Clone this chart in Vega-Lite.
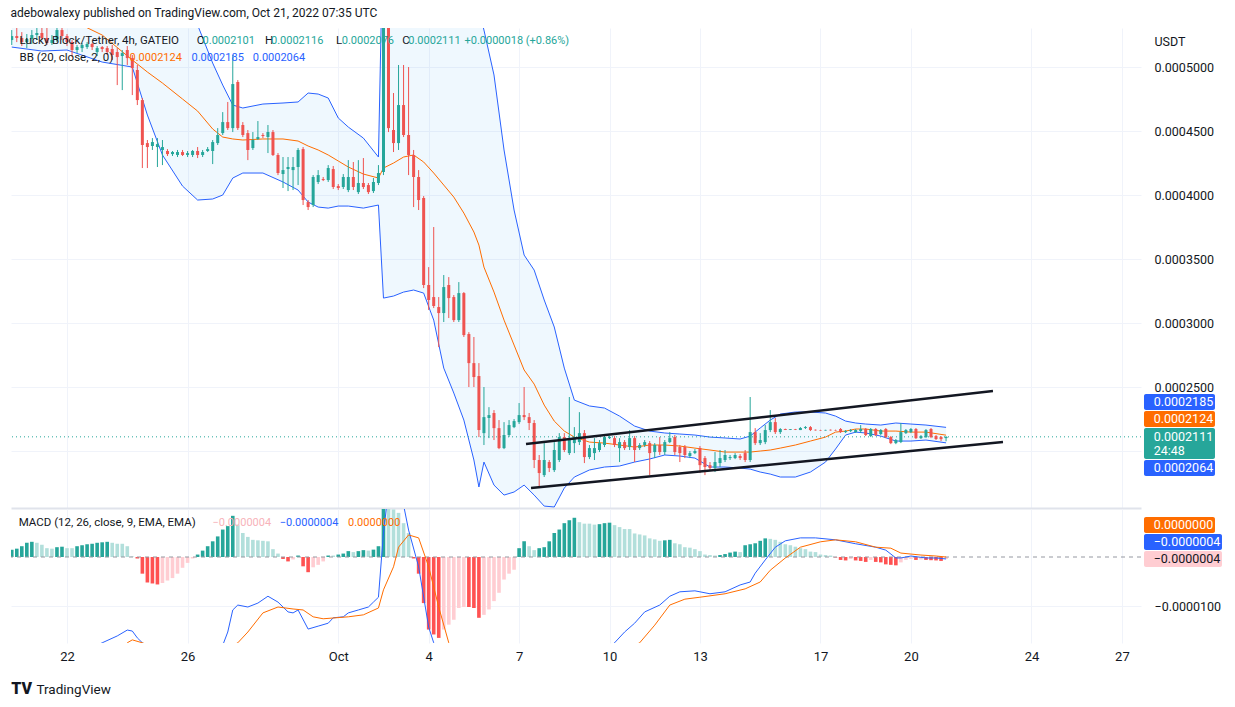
{
  "$schema": "https://vega.github.io/schema/vega-lite/v6.json",
  "background": "white",
  "padding": {"left": 10, "top": 7, "right": 0, "bottom": 0},
  "title": {"text": "adebowalexy published on TradingView.com, Oct 21, 2022 07:35 UTC", "anchor": "start", "fontSize": 12, "fontWeight": "normal", "color": "#131722", "font": "Roboto", "offset": 8},
  "spacing": 1,
  "config": {
    "view": {"stroke": null},
    "font": "Roboto",
    "text": {"font": "Roboto"},
    "axis": {"labelFont": "Roboto", "titleFont": "Roboto", "labelFontSize": 12.5, "labelColor": "#131722", "ticks": false, "domain": false, "gridColor": "#f0f3fa", "gridWidth": 1}
  },
  "datasets": {
    "candles": [
      {"t":"2022-09-20T04:00Z","o":0.0005211,"h":0.0005289,"l":0.0005172,"c":0.0005242,"hist":15e-7},
      {"t":"2022-09-20T08:00Z","o":0.0005242,"h":0.0005305,"l":0.0005195,"c":0.0005227,"hist":17e-7},
      {"t":"2022-09-20T12:00Z","o":0.0005227,"h":0.0005273,"l":0.0005164,"c":0.0005195,"hist":22e-7},
      {"t":"2022-09-20T16:00Z","o":0.0005195,"h":0.0005258,"l":0.0005148,"c":0.0005219,"hist":29e-7},
      {"t":"2022-09-20T20:00Z","o":0.0005219,"h":0.0005289,"l":0.000518,"c":0.000525,"hist":31e-7},
      {"t":"2022-09-21T00:00Z","o":0.000525,"h":0.000532,"l":0.0005211,"c":0.0005266,"hist":29e-7},
      {"t":"2022-09-21T04:00Z","o":0.0005266,"h":0.0005367,"l":0.0005211,"c":0.0005227,"hist":25e-7},
      {"t":"2022-09-21T08:00Z","o":0.0005227,"h":0.0005328,"l":0.0005172,"c":0.0005188,"hist":18e-7},
      {"t":"2022-09-21T12:00Z","o":0.0005188,"h":0.000525,"l":0.0005172,"c":0.0005211,"hist":17e-7},
      {"t":"2022-09-21T16:00Z","o":0.0005211,"h":0.0005328,"l":0.0005195,"c":0.0005289,"hist":20e-7},
      {"t":"2022-09-21T20:00Z","o":0.0005289,"h":0.000532,"l":0.0005211,"c":0.0005242,"hist":21e-7},
      {"t":"2022-09-22T00:00Z","o":0.0005242,"h":0.0005258,"l":0.0005164,"c":0.0005195,"hist":18e-7},
      {"t":"2022-09-22T04:00Z","o":0.0005195,"h":0.0005211,"l":0.0005078,"c":0.0005133,"hist":18e-7},
      {"t":"2022-09-22T08:00Z","o":0.0005133,"h":0.0005172,"l":0.0005109,"c":0.0005156,"hist":22e-7},
      {"t":"2022-09-22T12:00Z","o":0.0005148,"h":0.0005188,"l":0.0005117,"c":0.0005172,"hist":24e-7},
      {"t":"2022-09-22T16:00Z","o":0.0005156,"h":0.0005195,"l":0.0005141,"c":0.000518,"hist":26e-7},
      {"t":"2022-09-22T20:00Z","o":0.000518,"h":0.0005188,"l":0.0005133,"c":0.0005156,"hist":27e-7},
      {"t":"2022-09-23T00:00Z","o":0.0005117,"h":0.0005164,"l":0.0005086,"c":0.0005148,"hist":29e-7},
      {"t":"2022-09-23T04:00Z","o":0.0005156,"h":0.0005164,"l":0.0005117,"c":0.0005141,"hist":30e-7},
      {"t":"2022-09-23T08:00Z","o":0.0005148,"h":0.0005164,"l":0.0005094,"c":0.0005117,"hist":31e-7},
      {"t":"2022-09-23T12:00Z","o":0.0005141,"h":0.0005172,"l":0.0005055,"c":0.0005094,"hist":29e-7},
      {"t":"2022-09-23T16:00Z","o":0.0005117,"h":0.0005148,"l":0.0004859,"c":0.0005078,"hist":27e-7},
      {"t":"2022-09-23T20:00Z","o":0.0005086,"h":0.0005133,"l":0.000482,"c":0.0005109,"hist":27e-7},
      {"t":"2022-09-24T00:00Z","o":0.0005133,"h":0.0005164,"l":0.0005016,"c":0.000507,"hist":22e-7},
      {"t":"2022-09-24T04:00Z","o":0.000507,"h":0.0005094,"l":0.0004781,"c":0.0004992,"hist":1e-7},
      {"t":"2022-09-24T08:00Z","o":0.0004977,"h":0.0005016,"l":0.0004703,"c":0.0004742,"hist":-3e-7},
      {"t":"2022-09-24T12:00Z","o":0.0004742,"h":0.0004758,"l":0.0004211,"c":0.0004391,"hist":-34e-7},
      {"t":"2022-09-24T16:00Z","o":0.0004406,"h":0.000443,"l":0.0004211,"c":0.0004375,"hist":-52e-7},
      {"t":"2022-09-24T20:00Z","o":0.0004383,"h":0.0004445,"l":0.0004352,"c":0.0004414,"hist":-54e-7},
      {"t":"2022-09-25T00:00Z","o":0.0004375,"h":0.0004445,"l":0.0004219,"c":0.0004398,"hist":-56e-7},
      {"t":"2022-09-25T04:00Z","o":0.0004352,"h":0.000443,"l":0.0004234,"c":0.0004375,"hist":-53e-7},
      {"t":"2022-09-25T08:00Z","o":0.0004344,"h":0.0004359,"l":0.0004305,"c":0.000432,"hist":-48e-7},
      {"t":"2022-09-25T12:00Z","o":0.000432,"h":0.0004344,"l":0.0004305,"c":0.0004336,"hist":-43e-7},
      {"t":"2022-09-25T16:00Z","o":0.0004313,"h":0.0004352,"l":0.0004297,"c":0.0004336,"hist":-34e-7},
      {"t":"2022-09-25T20:00Z","o":0.0004336,"h":0.0004352,"l":0.0004305,"c":0.0004313,"hist":-22e-7},
      {"t":"2022-09-26T00:00Z","o":0.0004313,"h":0.0004344,"l":0.0004297,"c":0.0004328,"hist":-12e-7},
      {"t":"2022-09-26T04:00Z","o":0.0004313,"h":0.0004352,"l":0.0004297,"c":0.0004344,"hist":-3e-7},
      {"t":"2022-09-26T08:00Z","o":0.0004344,"h":0.0004375,"l":0.0004289,"c":0.0004313,"hist":5e-7},
      {"t":"2022-09-26T12:00Z","o":0.0004313,"h":0.0004352,"l":0.0004297,"c":0.0004336,"hist":13e-7},
      {"t":"2022-09-26T16:00Z","o":0.0004344,"h":0.0004375,"l":0.0004336,"c":0.0004359,"hist":22e-7},
      {"t":"2022-09-26T20:00Z","o":0.0004344,"h":0.000443,"l":0.0004242,"c":0.0004414,"hist":32e-7},
      {"t":"2022-09-27T00:00Z","o":0.0004406,"h":0.0004523,"l":0.0004391,"c":0.0004469,"hist":42e-7},
      {"t":"2022-09-27T04:00Z","o":0.0004484,"h":0.0004648,"l":0.0004469,"c":0.000457,"hist":56e-7},
      {"t":"2022-09-27T08:00Z","o":0.000457,"h":0.0004727,"l":0.0004508,"c":0.0004523,"hist":63e-7},
      {"t":"2022-09-27T12:00Z","o":0.0004523,"h":0.0005094,"l":0.0004492,"c":0.0004867,"hist":84e-7},
      {"t":"2022-09-27T16:00Z","o":0.0004883,"h":0.0004898,"l":0.0004508,"c":0.0004523,"hist":66e-7},
      {"t":"2022-09-27T20:00Z","o":0.0004547,"h":0.000457,"l":0.0004453,"c":0.0004469,"hist":49e-7},
      {"t":"2022-09-28T00:00Z","o":0.0004484,"h":0.0004508,"l":0.0004273,"c":0.0004352,"hist":41e-7},
      {"t":"2022-09-28T04:00Z","o":0.0004367,"h":0.0004492,"l":0.0004352,"c":0.000443,"hist":35e-7},
      {"t":"2022-09-28T08:00Z","o":0.0004438,"h":0.0004578,"l":0.000443,"c":0.0004453,"hist":34e-7},
      {"t":"2022-09-28T12:00Z","o":0.0004469,"h":0.0004484,"l":0.0004445,"c":0.0004461,"hist":33e-7},
      {"t":"2022-09-28T16:00Z","o":0.0004453,"h":0.0004547,"l":0.0004328,"c":0.0004492,"hist":32e-7},
      {"t":"2022-09-28T20:00Z","o":0.0004492,"h":0.0004508,"l":0.0004305,"c":0.0004313,"hist":16e-7},
      {"t":"2022-09-29T00:00Z","o":0.0004313,"h":0.0004328,"l":0.0004156,"c":0.0004172,"hist":7e-7},
      {"t":"2022-09-29T04:00Z","o":0.0004164,"h":0.0004297,"l":0.0004055,"c":0.0004195,"hist":-4e-7},
      {"t":"2022-09-29T08:00Z","o":0.0004203,"h":0.0004297,"l":0.0004031,"c":0.0004219,"hist":-9e-7},
      {"t":"2022-09-29T12:00Z","o":0.0004195,"h":0.0004297,"l":0.0004039,"c":0.0004219,"hist":-5e-7},
      {"t":"2022-09-29T16:00Z","o":0.0004219,"h":0.0004367,"l":0.0004078,"c":0.0004352,"hist":3e-7},
      {"t":"2022-09-29T20:00Z","o":0.0004359,"h":0.0004375,"l":0.0003922,"c":0.0003961,"hist":-19e-7},
      {"t":"2022-09-30T00:00Z","o":0.0003945,"h":0.0003961,"l":0.0003883,"c":0.0003906,"hist":-31e-7},
      {"t":"2022-09-30T04:00Z","o":0.0003922,"h":0.0004156,"l":0.0003906,"c":0.0004141,"hist":-21e-7},
      {"t":"2022-09-30T08:00Z","o":0.0004102,"h":0.0004195,"l":0.0004086,"c":0.0004156,"hist":-16e-7},
      {"t":"2022-09-30T12:00Z","o":0.0004125,"h":0.0004141,"l":0.0004109,"c":0.0004117,"hist":-9e-7},
      {"t":"2022-09-30T16:00Z","o":0.0004117,"h":0.0004234,"l":0.0004102,"c":0.0004211,"hist":3e-7},
      {"t":"2022-09-30T20:00Z","o":0.0004203,"h":0.0004227,"l":0.0004047,"c":0.0004063,"hist":3e-7},
      {"t":"2022-10-01T00:00Z","o":0.000407,"h":0.0004086,"l":0.0004039,"c":0.0004055,"hist":5e-7},
      {"t":"2022-10-01T04:00Z","o":0.0004063,"h":0.0004164,"l":0.0004047,"c":0.0004141,"hist":7e-7},
      {"t":"2022-10-01T08:00Z","o":0.0004039,"h":0.0004273,"l":0.0004023,"c":0.0004141,"hist":12e-7},
      {"t":"2022-10-01T12:00Z","o":0.0004141,"h":0.0004258,"l":0.0004039,"c":0.0004063,"hist":10e-7},
      {"t":"2022-10-01T16:00Z","o":0.0004023,"h":0.0004273,"l":0.0004008,"c":0.0004094,"hist":12e-7},
      {"t":"2022-10-01T20:00Z","o":0.0004094,"h":0.0004289,"l":0.0004047,"c":0.0004063,"hist":14e-7},
      {"t":"2022-10-02T00:00Z","o":0.0004078,"h":0.0004094,"l":0.0004008,"c":0.0004023,"hist":13e-7},
      {"t":"2022-10-02T04:00Z","o":0.0004031,"h":0.0004133,"l":0.0004016,"c":0.0004102,"hist":15e-7},
      {"t":"2022-10-02T08:00Z","o":0.0004094,"h":0.0004234,"l":0.0004078,"c":0.0004172,"hist":22e-7},
      {"t":"2022-10-02T12:00Z","o":0.000418,"h":0.0005523,"l":0.0004156,"c":0.0005406,"hist":130e-7},
      {"t":"2022-10-02T16:00Z","o":0.0005406,"h":0.0005508,"l":0.0004492,"c":0.0004523,"hist":103e-7},
      {"t":"2022-10-02T20:00Z","o":0.0004508,"h":0.0004797,"l":0.0004336,"c":0.0004406,"hist":97e-7},
      {"t":"2022-10-03T00:00Z","o":0.0004406,"h":0.0005016,"l":0.0004352,"c":0.0004703,"hist":90e-7},
      {"t":"2022-10-03T04:00Z","o":0.0004703,"h":0.0005016,"l":0.0004453,"c":0.0004469,"hist":69e-7},
      {"t":"2022-10-03T08:00Z","o":0.0004469,"h":0.0005,"l":0.0004156,"c":0.0004313,"hist":49e-7},
      {"t":"2022-10-03T12:00Z","o":0.0004313,"h":0.0004352,"l":0.0003906,"c":0.0004141,"hist":-3e-7},
      {"t":"2022-10-03T16:00Z","o":0.0004141,"h":0.0004195,"l":0.0003883,"c":0.0003961,"hist":-34e-7},
      {"t":"2022-10-03T20:00Z","o":0.0003977,"h":0.0003992,"l":0.0003273,"c":0.0003297,"hist":-94e-7},
      {"t":"2022-10-04T00:00Z","o":0.0003297,"h":0.0003437,"l":0.0003102,"c":0.000318,"hist":-148e-7},
      {"t":"2022-10-04T04:00Z","o":0.0003203,"h":0.000375,"l":0.0003117,"c":0.0003133,"hist":-158e-7},
      {"t":"2022-10-04T08:00Z","o":0.0003125,"h":0.0003203,"l":0.0002812,"c":0.0003078,"hist":-165e-7},
      {"t":"2022-10-04T12:00Z","o":0.0003078,"h":0.0003375,"l":0.0003008,"c":0.0003281,"hist":-148e-7},
      {"t":"2022-10-04T16:00Z","o":0.0003297,"h":0.0003359,"l":0.0003039,"c":0.0003195,"hist":-138e-7},
      {"t":"2022-10-04T20:00Z","o":0.0003203,"h":0.0003219,"l":0.0003008,"c":0.0003023,"hist":-128e-7},
      {"t":"2022-10-05T00:00Z","o":0.0003023,"h":0.000332,"l":0.0003008,"c":0.0003234,"hist":-104e-7},
      {"t":"2022-10-05T04:00Z","o":0.0003234,"h":0.0003242,"l":0.0002891,"c":0.0002906,"hist":-102e-7},
      {"t":"2022-10-05T08:00Z","o":0.0002914,"h":0.0002929,"l":0.00025,"c":0.0002687,"hist":-102e-7},
      {"t":"2022-10-05T12:00Z","o":0.0002687,"h":0.0002891,"l":0.00025,"c":0.0002578,"hist":-104e-7},
      {"t":"2022-10-05T16:00Z","o":0.0002586,"h":0.0002687,"l":0.0002109,"c":0.0002164,"hist":-124e-7},
      {"t":"2022-10-05T20:00Z","o":0.000214,"h":0.00025,"l":0.0002047,"c":0.0002265,"hist":-118e-7},
      {"t":"2022-10-06T00:00Z","o":0.0002258,"h":0.0002343,"l":0.0002101,"c":0.0002281,"hist":-107e-7},
      {"t":"2022-10-06T04:00Z","o":0.0002297,"h":0.000232,"l":0.0002086,"c":0.0002179,"hist":-90e-7},
      {"t":"2022-10-06T08:00Z","o":0.0002179,"h":0.0002242,"l":0.0002015,"c":0.0002023,"hist":-73e-7},
      {"t":"2022-10-06T12:00Z","o":0.0002023,"h":0.0002226,"l":0.0002015,"c":0.0002125,"hist":-46e-7},
      {"t":"2022-10-06T16:00Z","o":0.0002125,"h":0.0002242,"l":0.0002109,"c":0.0002203,"hist":-34e-7},
      {"t":"2022-10-06T20:00Z","o":0.0002187,"h":0.000225,"l":0.0002179,"c":0.0002234,"hist":-26e-7},
      {"t":"2022-10-07T00:00Z","o":0.0002226,"h":0.0002375,"l":0.0002211,"c":0.0002281,"hist":18e-7},
      {"t":"2022-10-07T04:00Z","o":0.0002281,"h":0.00025,"l":0.0002242,"c":0.0002265,"hist":32e-7},
      {"t":"2022-10-07T08:00Z","o":0.0002265,"h":0.0002297,"l":0.0002164,"c":0.0002219,"hist":22e-7},
      {"t":"2022-10-07T12:00Z","o":0.0002219,"h":0.0002242,"l":0.0001867,"c":0.000193,"hist":14e-7},
      {"t":"2022-10-07T16:00Z","o":0.000193,"h":0.0001969,"l":0.0001719,"c":0.0001828,"hist":18e-7},
      {"t":"2022-10-07T20:00Z","o":0.0001812,"h":0.0002062,"l":0.0001797,"c":0.000193,"hist":20e-7},
      {"t":"2022-10-08T00:00Z","o":0.0001914,"h":0.000193,"l":0.0001836,"c":0.0001867,"hist":32e-7},
      {"t":"2022-10-08T04:00Z","o":0.0001851,"h":0.000207,"l":0.0001836,"c":0.0002008,"hist":49e-7},
      {"t":"2022-10-08T08:00Z","o":0.000193,"h":0.000214,"l":0.0001914,"c":0.0002109,"hist":56e-7},
      {"t":"2022-10-08T12:00Z","o":0.0002109,"h":0.000214,"l":0.0001992,"c":0.0002008,"hist":69e-7},
      {"t":"2022-10-08T16:00Z","o":0.0001984,"h":0.0002422,"l":0.0001969,"c":0.0002086,"hist":75e-7},
      {"t":"2022-10-08T20:00Z","o":0.0002062,"h":0.0002187,"l":0.0001984,"c":0.0002109,"hist":80e-7},
      {"t":"2022-10-09T00:00Z","o":0.000207,"h":0.0002304,"l":0.0002047,"c":0.000214,"hist":71e-7},
      {"t":"2022-10-09T04:00Z","o":0.000214,"h":0.0002164,"l":0.0001906,"c":0.0001953,"hist":68e-7},
      {"t":"2022-10-09T08:00Z","o":0.0001953,"h":0.0002047,"l":0.0001937,"c":0.0002023,"hist":68e-7},
      {"t":"2022-10-09T12:00Z","o":0.0001984,"h":0.0002101,"l":0.000193,"c":0.0002023,"hist":66e-7},
      {"t":"2022-10-09T16:00Z","o":0.0002008,"h":0.0002086,"l":0.0001992,"c":0.0002062,"hist":67e-7},
      {"t":"2022-10-09T20:00Z","o":0.0002047,"h":0.0002125,"l":0.0002031,"c":0.0002109,"hist":69e-7},
      {"t":"2022-10-10T00:00Z","o":0.0002101,"h":0.0002117,"l":0.0002094,"c":0.0002109,"hist":70e-7},
      {"t":"2022-10-10T04:00Z","o":0.0002101,"h":0.0002117,"l":0.0002031,"c":0.0002047,"hist":65e-7},
      {"t":"2022-10-10T08:00Z","o":0.0002023,"h":0.0002101,"l":0.0001914,"c":0.000207,"hist":61e-7},
      {"t":"2022-10-10T12:00Z","o":0.000207,"h":0.0002086,"l":0.0002008,"c":0.0002023,"hist":57e-7},
      {"t":"2022-10-10T16:00Z","o":0.0002031,"h":0.0002164,"l":0.0002008,"c":0.0002101,"hist":57e-7},
      {"t":"2022-10-10T20:00Z","o":0.0002101,"h":0.0002117,"l":0.0001914,"c":0.0002008,"hist":48e-7},
      {"t":"2022-10-11T00:00Z","o":0.0002023,"h":0.0002062,"l":0.0002008,"c":0.0002047,"hist":46e-7},
      {"t":"2022-10-11T04:00Z","o":0.0002047,"h":0.0002086,"l":0.0002031,"c":0.000207,"hist":44e-7},
      {"t":"2022-10-11T08:00Z","o":0.0002062,"h":0.0002078,"l":0.0001812,"c":0.0001984,"hist":38e-7},
      {"t":"2022-10-11T12:00Z","o":0.0001992,"h":0.0002062,"l":0.0001945,"c":0.0002047,"hist":36e-7},
      {"t":"2022-10-11T16:00Z","o":0.0002047,"h":0.0002109,"l":0.0001969,"c":0.0001992,"hist":33e-7},
      {"t":"2022-10-11T20:00Z","o":0.0001992,"h":0.0002086,"l":0.0001969,"c":0.000207,"hist":34e-7},
      {"t":"2022-10-12T00:00Z","o":0.000207,"h":0.0002148,"l":0.0002062,"c":0.0002101,"hist":35e-7},
      {"t":"2022-10-12T04:00Z","o":0.0002109,"h":0.0002125,"l":0.0001969,"c":0.0001992,"hist":28e-7},
      {"t":"2022-10-12T08:00Z","o":0.0002031,"h":0.0002047,"l":0.0001914,"c":0.0001984,"hist":26e-7},
      {"t":"2022-10-12T12:00Z","o":0.0002031,"h":0.0002047,"l":0.0001945,"c":0.0001969,"hist":20e-7},
      {"t":"2022-10-12T16:00Z","o":0.0001961,"h":0.0002,"l":0.0001945,"c":0.0001984,"hist":19e-7},
      {"t":"2022-10-12T20:00Z","o":0.0001984,"h":0.0002016,"l":0.0001976,"c":0.0002,"hist":16e-7},
      {"t":"2022-10-13T00:00Z","o":0.0002023,"h":0.0002039,"l":0.0001828,"c":0.000189,"hist":12e-7},
      {"t":"2022-10-13T04:00Z","o":0.0001945,"h":0.0001961,"l":0.0001812,"c":0.0001875,"hist":5e-7},
      {"t":"2022-10-13T08:00Z","o":0.000189,"h":0.0001914,"l":0.0001851,"c":0.0001867,"hist":4e-7},
      {"t":"2022-10-13T12:00Z","o":0.0001867,"h":0.0001992,"l":0.0001836,"c":0.0001914,"hist":3e-7},
      {"t":"2022-10-13T16:00Z","o":0.0001906,"h":0.0002008,"l":0.0001875,"c":0.0001945,"hist":4e-7},
      {"t":"2022-10-13T20:00Z","o":0.000193,"h":0.0002008,"l":0.0001914,"c":0.0001969,"hist":6e-7},
      {"t":"2022-10-14T00:00Z","o":0.0001945,"h":0.0001969,"l":0.000193,"c":0.0001953,"hist":9e-7},
      {"t":"2022-10-14T04:00Z","o":0.0001945,"h":0.0001984,"l":0.0001937,"c":0.0001969,"hist":11e-7},
      {"t":"2022-10-14T08:00Z","o":0.0001961,"h":0.0001976,"l":0.000193,"c":0.0001945,"hist":10e-7},
      {"t":"2022-10-14T12:00Z","o":0.0001984,"h":0.0002008,"l":0.0001914,"c":0.000193,"hist":24e-7},
      {"t":"2022-10-14T16:00Z","o":0.000193,"h":0.0002422,"l":0.0001914,"c":0.0002148,"hist":26e-7},
      {"t":"2022-10-14T20:00Z","o":0.0002148,"h":0.0002179,"l":0.0002047,"c":0.0002062,"hist":28e-7},
      {"t":"2022-10-15T00:00Z","o":0.0002062,"h":0.000214,"l":0.0002047,"c":0.0002086,"hist":33e-7},
      {"t":"2022-10-15T04:00Z","o":0.000207,"h":0.0002203,"l":0.0002054,"c":0.0002164,"hist":38e-7},
      {"t":"2022-10-15T08:00Z","o":0.0002164,"h":0.000232,"l":0.0002148,"c":0.0002226,"hist":37e-7},
      {"t":"2022-10-15T12:00Z","o":0.0002226,"h":0.0002258,"l":0.0002133,"c":0.0002148,"hist":35e-7},
      {"t":"2022-10-15T16:00Z","o":0.0002148,"h":0.0002179,"l":0.0002133,"c":0.0002172,"hist":31e-7},
      {"t":"2022-10-15T20:00Z","o":0.0002172,"h":0.0002175,"l":0.0002164,"c":0.0002165,"hist":26e-7},
      {"t":"2022-10-16T00:00Z","o":0.0002165,"h":0.0002172,"l":0.0002164,"c":0.0002171,"hist":24e-7},
      {"t":"2022-10-16T04:00Z","o":0.0002171,"h":0.0002173,"l":0.0002164,"c":0.0002166,"hist":21e-7},
      {"t":"2022-10-16T08:00Z","o":0.0002164,"h":0.0002187,"l":0.0002164,"c":0.000218,"hist":18e-7},
      {"t":"2022-10-16T12:00Z","o":0.000218,"h":0.0002195,"l":0.0002172,"c":0.0002187,"hist":16e-7},
      {"t":"2022-10-16T16:00Z","o":0.0002187,"h":0.0002195,"l":0.0002156,"c":0.0002164,"hist":11e-7},
      {"t":"2022-10-16T20:00Z","o":0.0002166,"h":0.0002168,"l":0.000216,"c":0.0002162,"hist":10e-7},
      {"t":"2022-10-17T00:00Z","o":0.0002164,"h":0.0002166,"l":0.0002159,"c":0.0002161,"hist":5e-7},
      {"t":"2022-10-17T04:00Z","o":0.0002161,"h":0.0002166,"l":0.000216,"c":0.0002165,"hist":4e-7},
      {"t":"2022-10-17T08:00Z","o":0.0002166,"h":0.0002168,"l":0.000216,"c":0.0002162,"hist":3e-7},
      {"t":"2022-10-17T12:00Z","o":0.0002164,"h":0.0002167,"l":0.0002159,"c":0.0002161,"hist":-1e-7},
      {"t":"2022-10-17T16:00Z","o":0.0002172,"h":0.000218,"l":0.0002141,"c":0.0002148,"hist":-6e-7},
      {"t":"2022-10-17T20:00Z","o":0.0002148,"h":0.0002164,"l":0.0002141,"c":0.0002156,"hist":-7e-7},
      {"t":"2022-10-18T00:00Z","o":0.0002156,"h":0.0002172,"l":0.0002148,"c":0.0002164,"hist":-4e-7},
      {"t":"2022-10-18T04:00Z","o":0.0002148,"h":0.0002172,"l":0.0002141,"c":0.0002164,"hist":-7e-7},
      {"t":"2022-10-18T08:00Z","o":0.0002156,"h":0.0002203,"l":0.0002141,"c":0.0002172,"hist":-8e-7},
      {"t":"2022-10-18T12:00Z","o":0.0002172,"h":0.000218,"l":0.0002117,"c":0.0002125,"hist":-10e-7},
      {"t":"2022-10-18T16:00Z","o":0.0002117,"h":0.000218,"l":0.0002109,"c":0.0002172,"hist":-6e-7},
      {"t":"2022-10-18T20:00Z","o":0.0002172,"h":0.000218,"l":0.0002117,"c":0.0002125,"hist":-10e-7},
      {"t":"2022-10-19T00:00Z","o":0.0002133,"h":0.0002172,"l":0.0002125,"c":0.0002164,"hist":-11e-7},
      {"t":"2022-10-19T04:00Z","o":0.0002172,"h":0.000218,"l":0.0002101,"c":0.0002109,"hist":-15e-7},
      {"t":"2022-10-19T08:00Z","o":0.0002109,"h":0.0002117,"l":0.0002054,"c":0.0002062,"hist":-16e-7},
      {"t":"2022-10-19T12:00Z","o":0.0002062,"h":0.0002094,"l":0.0002054,"c":0.0002086,"hist":-17e-7},
      {"t":"2022-10-19T16:00Z","o":0.000207,"h":0.0002219,"l":0.0002062,"c":0.0002148,"hist":-11e-7},
      {"t":"2022-10-19T20:00Z","o":0.000214,"h":0.0002172,"l":0.0002133,"c":0.0002164,"hist":-6e-7},
      {"t":"2022-10-20T00:00Z","o":0.0002148,"h":0.000218,"l":0.000214,"c":0.0002172,"hist":-4e-7},
      {"t":"2022-10-20T04:00Z","o":0.0002172,"h":0.000218,"l":0.0002094,"c":0.0002101,"hist":-6e-7},
      {"t":"2022-10-20T08:00Z","o":0.0002101,"h":0.0002125,"l":0.0002094,"c":0.0002117,"hist":-5e-7},
      {"t":"2022-10-20T12:00Z","o":0.0002109,"h":0.0002172,"l":0.0002101,"c":0.0002164,"hist":-6e-7},
      {"t":"2022-10-20T16:00Z","o":0.0002172,"h":0.000218,"l":0.0002101,"c":0.0002109,"hist":-6.5e-7},
      {"t":"2022-10-20T20:00Z","o":0.0002117,"h":0.0002125,"l":0.0002086,"c":0.0002094,"hist":-7e-7},
      {"t":"2022-10-21T00:00Z","o":0.0002109,"h":0.0002117,"l":0.0002078,"c":0.0002093,"hist":-8e-7},
      {"t":"2022-10-21T04:00Z","o":0.0002101,"h":0.0002116,"l":0.0002076,"c":0.0002111,"hist":-4e-7}
    ],
    "bb": [
      {"t":"2022-09-20T04:00Z","up":0.0005992,"mid":0.0005562,"lo":0.0005156},
      {"t":"2022-09-21T04:00Z","up":0.0005992,"mid":0.0005461,"lo":0.0005125},
      {"t":"2022-09-22T00:00Z","up":0.0005953,"mid":0.0005383,"lo":0.0005133},
      {"t":"2022-09-23T04:00Z","up":0.0005914,"mid":0.000525,"lo":0.0005039},
      {"t":"2022-09-24T04:00Z","up":0.0005875,"mid":0.0005055,"lo":0.0005},
      {"t":"2022-09-24T16:00Z","up":0.0005797,"mid":0.0004961,"lo":0.0004625},
      {"t":"2022-09-25T04:00Z","up":0.000568,"mid":0.0004875,"lo":0.0004313},
      {"t":"2022-09-25T20:00Z","up":0.0005484,"mid":0.000475,"lo":0.000407},
      {"t":"2022-09-26T08:00Z","up":0.0005328,"mid":0.0004656,"lo":0.0003961},
      {"t":"2022-09-26T20:00Z","up":0.0005031,"mid":0.0004516,"lo":0.0003969},
      {"t":"2022-09-27T04:00Z","up":0.0004859,"mid":0.0004453,"lo":0.0004},
      {"t":"2022-09-27T12:00Z","up":0.0004703,"mid":0.0004438,"lo":0.0004133},
      {"t":"2022-09-27T20:00Z","up":0.000468,"mid":0.000443,"lo":0.0004172},
      {"t":"2022-09-28T12:00Z","up":0.0004711,"mid":0.0004438,"lo":0.0004172},
      {"t":"2022-09-29T04:00Z","up":0.0004719,"mid":0.0004438,"lo":0.0004102},
      {"t":"2022-09-29T16:00Z","up":0.0004727,"mid":0.0004422,"lo":0.0004039},
      {"t":"2022-09-30T00:00Z","up":0.0004797,"mid":0.0004383,"lo":0.0003945},
      {"t":"2022-09-30T08:00Z","up":0.0004789,"mid":0.0004352,"lo":0.0003906},
      {"t":"2022-09-30T16:00Z","up":0.0004758,"mid":0.0004313,"lo":0.0003898},
      {"t":"2022-10-01T00:00Z","up":0.0004602,"mid":0.0004266,"lo":0.0003914},
      {"t":"2022-10-01T08:00Z","up":0.0004531,"mid":0.0004219,"lo":0.0003914},
      {"t":"2022-10-01T20:00Z","up":0.0004445,"mid":0.0004164,"lo":0.0003898},
      {"t":"2022-10-02T08:00Z","up":0.0004297,"mid":0.0004133,"lo":0.0003922},
      {"t":"2022-10-02T12:00Z","up":0.0006227,"mid":0.0004211,"lo":0.0003195},
      {"t":"2022-10-02T20:00Z","up":0.0006383,"mid":0.000425,"lo":0.0003211},
      {"t":"2022-10-03T04:00Z","up":0.0006461,"mid":0.0004297,"lo":0.0003242},
      {"t":"2022-10-03T12:00Z","up":0.0006461,"mid":0.0004313,"lo":0.0003258},
      {"t":"2022-10-03T20:00Z","up":0.0006383,"mid":0.0004258,"lo":0.0003234},
      {"t":"2022-10-04T04:00Z","up":0.0006305,"mid":0.0004172,"lo":0.0003023},
      {"t":"2022-10-04T12:00Z","up":0.0006148,"mid":0.0004078,"lo":0.0002648},
      {"t":"2022-10-04T20:00Z","up":0.0005992,"mid":0.0003984,"lo":0.0002453},
      {"t":"2022-10-05T04:00Z","up":0.0005836,"mid":0.0003859,"lo":0.0002242},
      {"t":"2022-10-05T12:00Z","up":0.0005602,"mid":0.0003711,"lo":0.000193},
      {"t":"2022-10-05T16:00Z","up":0.0005445,"mid":0.0003609,"lo":0.0001719},
      {"t":"2022-10-05T20:00Z","up":0.0005289,"mid":0.0003437,"lo":0.0001914},
      {"t":"2022-10-06T04:00Z","up":0.0004938,"mid":0.0003242,"lo":0.0001734},
      {"t":"2022-10-06T12:00Z","up":0.0004352,"mid":0.0003023,"lo":0.0001656},
      {"t":"2022-10-06T20:00Z","up":0.0003883,"mid":0.0002828,"lo":0.000168},
      {"t":"2022-10-07T04:00Z","up":0.0003531,"mid":0.0002633,"lo":0.0001734},
      {"t":"2022-10-07T12:00Z","up":0.0003414,"mid":0.0002523,"lo":0.0001656},
      {"t":"2022-10-07T20:00Z","up":0.000318,"mid":0.0002359,"lo":0.000157},
      {"t":"2022-10-08T04:00Z","up":0.0002969,"mid":0.0002234,"lo":0.0001563},
      {"t":"2022-10-08T12:00Z","up":0.0002648,"mid":0.0002156,"lo":0.0001711},
      {"t":"2022-10-08T20:00Z","up":0.0002398,"mid":0.0002109,"lo":0.0001797},
      {"t":"2022-10-09T08:00Z","up":0.0002352,"mid":0.000207,"lo":0.0001852},
      {"t":"2022-10-09T20:00Z","up":0.0002336,"mid":0.0002062,"lo":0.0001875},
      {"t":"2022-10-10T08:00Z","up":0.0002273,"mid":0.0002047,"lo":0.0001883},
      {"t":"2022-10-10T20:00Z","up":0.0002195,"mid":0.0002031,"lo":0.0001914},
      {"t":"2022-10-11T08:00Z","up":0.0002156,"mid":0.0002047,"lo":0.0001938},
      {"t":"2022-10-11T20:00Z","up":0.0002141,"mid":0.0002047,"lo":0.0001969},
      {"t":"2022-10-12T08:00Z","up":0.0002133,"mid":0.0002039,"lo":0.0001961},
      {"t":"2022-10-12T20:00Z","up":0.0002125,"mid":0.0002023,"lo":0.0001945},
      {"t":"2022-10-13T08:00Z","up":0.0002109,"mid":0.0002008,"lo":0.0001875},
      {"t":"2022-10-13T20:00Z","up":0.0002102,"mid":0.0001992,"lo":0.0001875},
      {"t":"2022-10-14T08:00Z","up":0.0002094,"mid":0.0001992,"lo":0.0001867},
      {"t":"2022-10-14T16:00Z","up":0.0002117,"mid":0.0001992,"lo":0.0001859},
      {"t":"2022-10-15T00:00Z","up":0.000218,"mid":0.0002,"lo":0.0001836},
      {"t":"2022-10-15T08:00Z","up":0.0002242,"mid":0.0002008,"lo":0.000182},
      {"t":"2022-10-15T16:00Z","up":0.0002289,"mid":0.0002023,"lo":0.0001797},
      {"t":"2022-10-16T04:00Z","up":0.0002305,"mid":0.0002047,"lo":0.0001797},
      {"t":"2022-10-16T16:00Z","up":0.0002305,"mid":0.0002078,"lo":0.0001836},
      {"t":"2022-10-17T04:00Z","up":0.0002297,"mid":0.0002109,"lo":0.0001914},
      {"t":"2022-10-17T12:00Z","up":0.0002273,"mid":0.0002148,"lo":0.0002016},
      {"t":"2022-10-17T20:00Z","up":0.0002234,"mid":0.0002156,"lo":0.0002125},
      {"t":"2022-10-18T04:00Z","up":0.0002219,"mid":0.0002172,"lo":0.0002148},
      {"t":"2022-10-18T12:00Z","up":0.0002211,"mid":0.0002172,"lo":0.0002141},
      {"t":"2022-10-19T00:00Z","up":0.0002203,"mid":0.0002156,"lo":0.0002117},
      {"t":"2022-10-19T12:00Z","up":0.0002219,"mid":0.0002156,"lo":0.0002078},
      {"t":"2022-10-20T00:00Z","up":0.0002211,"mid":0.0002148,"lo":0.0002078},
      {"t":"2022-10-20T12:00Z","up":0.0002203,"mid":0.0002148,"lo":0.0002086},
      {"t":"2022-10-21T04:00Z","up":0.0002185,"mid":0.0002124,"lo":0.0002064}
    ],
    "macd": [
      {"t":"2022-09-20T04:00Z","s":"MACD","v":-240e-7},
      {"t":"2022-09-21T20:00Z","s":"MACD","v":-215e-7},
      {"t":"2022-09-23T04:00Z","s":"MACD","v":-175e-7},
      {"t":"2022-09-23T16:00Z","s":"MACD","v":-161e-7},
      {"t":"2022-09-24T00:00Z","s":"MACD","v":-149e-7},
      {"t":"2022-09-24T04:00Z","s":"MACD","v":-151e-7},
      {"t":"2022-09-24T08:00Z","s":"MACD","v":-165e-7},
      {"t":"2022-09-24T12:00Z","s":"MACD","v":-175e-7},
      {"t":"2022-09-25T04:00Z","s":"MACD","v":-200e-7},
      {"t":"2022-09-26T04:00Z","s":"MACD","v":-210e-7},
      {"t":"2022-09-26T20:00Z","s":"MACD","v":-195e-7},
      {"t":"2022-09-27T04:00Z","s":"MACD","v":-180e-7},
      {"t":"2022-09-27T08:00Z","s":"MACD","v":-153e-7},
      {"t":"2022-09-27T12:00Z","s":"MACD","v":-108e-7},
      {"t":"2022-09-27T16:00Z","s":"MACD","v":-98e-7},
      {"t":"2022-09-28T00:00Z","s":"MACD","v":-102e-7},
      {"t":"2022-09-28T08:00Z","s":"MACD","v":-94e-7},
      {"t":"2022-09-28T16:00Z","s":"MACD","v":-80e-7},
      {"t":"2022-09-29T00:00Z","s":"MACD","v":-92e-7},
      {"t":"2022-09-29T08:00Z","s":"MACD","v":-112e-7},
      {"t":"2022-09-29T12:00Z","s":"MACD","v":-114e-7},
      {"t":"2022-09-29T16:00Z","s":"MACD","v":-108e-7},
      {"t":"2022-09-30T00:00Z","s":"MACD","v":-147e-7},
      {"t":"2022-09-30T08:00Z","s":"MACD","v":-141e-7},
      {"t":"2022-09-30T16:00Z","s":"MACD","v":-135e-7},
      {"t":"2022-09-30T20:00Z","s":"MACD","v":-124e-7},
      {"t":"2022-10-01T04:00Z","s":"MACD","v":-122e-7},
      {"t":"2022-10-01T08:00Z","s":"MACD","v":-114e-7},
      {"t":"2022-10-01T16:00Z","s":"MACD","v":-108e-7},
      {"t":"2022-10-02T00:00Z","s":"MACD","v":-102e-7},
      {"t":"2022-10-02T04:00Z","s":"MACD","v":-92e-7},
      {"t":"2022-10-02T08:00Z","s":"MACD","v":-82e-7},
      {"t":"2022-10-02T12:00Z","s":"MACD","v":49e-7},
      {"t":"2022-10-02T16:00Z","s":"MACD","v":137e-7},
      {"t":"2022-10-03T00:00Z","s":"MACD","v":157e-7},
      {"t":"2022-10-03T04:00Z","s":"MACD","v":106e-7},
      {"t":"2022-10-03T08:00Z","s":"MACD","v":55e-7},
      {"t":"2022-10-03T16:00Z","s":"MACD","v":-20e-7},
      {"t":"2022-10-04T00:00Z","s":"MACD","v":-143e-7},
      {"t":"2022-10-04T04:00Z","s":"MACD","v":-175e-7},
      {"t":"2022-10-04T12:00Z","s":"MACD","v":-251e-7},
      {"t":"2022-10-05T04:00Z","s":"MACD","v":-300e-7},
      {"t":"2022-10-06T00:00Z","s":"MACD","v":-320e-7},
      {"t":"2022-10-06T20:00Z","s":"MACD","v":-300e-7},
      {"t":"2022-10-07T16:00Z","s":"MACD","v":-280e-7},
      {"t":"2022-10-08T12:00Z","s":"MACD","v":-250e-7},
      {"t":"2022-10-09T08:00Z","s":"MACD","v":-210e-7},
      {"t":"2022-10-10T00:00Z","s":"MACD","v":-185e-7},
      {"t":"2022-10-10T04:00Z","s":"MACD","v":-175e-7},
      {"t":"2022-10-10T12:00Z","s":"MACD","v":-153e-7},
      {"t":"2022-10-10T20:00Z","s":"MACD","v":-135e-7},
      {"t":"2022-10-11T04:00Z","s":"MACD","v":-112e-7},
      {"t":"2022-10-11T16:00Z","s":"MACD","v":-98e-7},
      {"t":"2022-10-12T00:00Z","s":"MACD","v":-80e-7},
      {"t":"2022-10-12T08:00Z","s":"MACD","v":-71e-7},
      {"t":"2022-10-12T20:00Z","s":"MACD","v":-69e-7},
      {"t":"2022-10-13T08:00Z","s":"MACD","v":-75e-7},
      {"t":"2022-10-13T20:00Z","s":"MACD","v":-71e-7},
      {"t":"2022-10-14T08:00Z","s":"MACD","v":-57e-7},
      {"t":"2022-10-14T16:00Z","s":"MACD","v":-51e-7},
      {"t":"2022-10-14T20:00Z","s":"MACD","v":-33e-7},
      {"t":"2022-10-15T04:00Z","s":"MACD","v":-6e-7},
      {"t":"2022-10-15T12:00Z","s":"MACD","v":20e-7},
      {"t":"2022-10-15T20:00Z","s":"MACD","v":33e-7},
      {"t":"2022-10-16T08:00Z","s":"MACD","v":39e-7},
      {"t":"2022-10-16T20:00Z","s":"MACD","v":39e-7},
      {"t":"2022-10-17T12:00Z","s":"MACD","v":35e-7},
      {"t":"2022-10-18T04:00Z","s":"MACD","v":27e-7},
      {"t":"2022-10-18T20:00Z","s":"MACD","v":20e-7},
      {"t":"2022-10-19T04:00Z","s":"MACD","v":14e-7},
      {"t":"2022-10-19T12:00Z","s":"MACD","v":-2e-7},
      {"t":"2022-10-19T16:00Z","s":"MACD","v":-2e-7},
      {"t":"2022-10-20T00:00Z","s":"MACD","v":2e-7},
      {"t":"2022-10-20T12:00Z","s":"MACD","v":-2e-7},
      {"t":"2022-10-20T20:00Z","s":"MACD","v":-2e-7},
      {"t":"2022-10-21T04:00Z","s":"MACD","v":-4e-7},
      {"t":"2022-09-20T04:00Z","s":"Signal","v":-255e-7},
      {"t":"2022-09-21T20:00Z","s":"Signal","v":-240e-7},
      {"t":"2022-09-23T12:00Z","s":"Signal","v":-200e-7},
      {"t":"2022-09-23T20:00Z","s":"Signal","v":-185e-7},
      {"t":"2022-09-24T00:00Z","s":"Signal","v":-175e-7},
      {"t":"2022-09-24T04:00Z","s":"Signal","v":-169e-7},
      {"t":"2022-09-24T12:00Z","s":"Signal","v":-175e-7},
      {"t":"2022-09-25T04:00Z","s":"Signal","v":-190e-7},
      {"t":"2022-09-26T04:00Z","s":"Signal","v":-190e-7},
      {"t":"2022-09-26T20:00Z","s":"Signal","v":-200e-7},
      {"t":"2022-09-27T08:00Z","s":"Signal","v":-185e-7},
      {"t":"2022-09-27T16:00Z","s":"Signal","v":-175e-7},
      {"t":"2022-09-28T00:00Z","s":"Signal","v":-153e-7},
      {"t":"2022-09-28T12:00Z","s":"Signal","v":-114e-7},
      {"t":"2022-09-29T00:00Z","s":"Signal","v":-102e-7},
      {"t":"2022-09-29T12:00Z","s":"Signal","v":-106e-7},
      {"t":"2022-09-29T20:00Z","s":"Signal","v":-108e-7},
      {"t":"2022-09-30T04:00Z","s":"Signal","v":-122e-7},
      {"t":"2022-09-30T12:00Z","s":"Signal","v":-126e-7},
      {"t":"2022-10-01T08:00Z","s":"Signal","v":-122e-7},
      {"t":"2022-10-01T20:00Z","s":"Signal","v":-118e-7},
      {"t":"2022-10-02T08:00Z","s":"Signal","v":-104e-7},
      {"t":"2022-10-02T12:00Z","s":"Signal","v":-67e-7},
      {"t":"2022-10-02T20:00Z","s":"Signal","v":-20e-7},
      {"t":"2022-10-03T00:00Z","s":"Signal","v":20e-7},
      {"t":"2022-10-03T08:00Z","s":"Signal","v":45e-7},
      {"t":"2022-10-03T16:00Z","s":"Signal","v":39e-7},
      {"t":"2022-10-04T00:00Z","s":"Signal","v":-20e-7},
      {"t":"2022-10-04T08:00Z","s":"Signal","v":-102e-7},
      {"t":"2022-10-04T16:00Z","s":"Signal","v":-175e-7},
      {"t":"2022-10-05T04:00Z","s":"Signal","v":-215e-7},
      {"t":"2022-10-06T00:00Z","s":"Signal","v":-260e-7},
      {"t":"2022-10-06T20:00Z","s":"Signal","v":-280e-7},
      {"t":"2022-10-07T16:00Z","s":"Signal","v":-275e-7},
      {"t":"2022-10-08T12:00Z","s":"Signal","v":-265e-7},
      {"t":"2022-10-09T08:00Z","s":"Signal","v":-245e-7},
      {"t":"2022-10-10T04:00Z","s":"Signal","v":-215e-7},
      {"t":"2022-10-10T20:00Z","s":"Signal","v":-180e-7},
      {"t":"2022-10-11T00:00Z","s":"Signal","v":-175e-7},
      {"t":"2022-10-11T12:00Z","s":"Signal","v":-139e-7},
      {"t":"2022-10-12T00:00Z","s":"Signal","v":-98e-7},
      {"t":"2022-10-12T12:00Z","s":"Signal","v":-86e-7},
      {"t":"2022-10-13T00:00Z","s":"Signal","v":-82e-7},
      {"t":"2022-10-13T20:00Z","s":"Signal","v":-75e-7},
      {"t":"2022-10-14T12:00Z","s":"Signal","v":-65e-7},
      {"t":"2022-10-15T00:00Z","s":"Signal","v":-51e-7},
      {"t":"2022-10-15T08:00Z","s":"Signal","v":-27e-7},
      {"t":"2022-10-15T20:00Z","s":"Signal","v":-2e-7},
      {"t":"2022-10-16T08:00Z","s":"Signal","v":20e-7},
      {"t":"2022-10-17T00:00Z","s":"Signal","v":31e-7},
      {"t":"2022-10-17T12:00Z","s":"Signal","v":35e-7},
      {"t":"2022-10-18T04:00Z","s":"Signal","v":31e-7},
      {"t":"2022-10-18T20:00Z","s":"Signal","v":20e-7},
      {"t":"2022-10-19T08:00Z","s":"Signal","v":18e-7},
      {"t":"2022-10-19T16:00Z","s":"Signal","v":8e-7},
      {"t":"2022-10-20T08:00Z","s":"Signal","v":4e-7},
      {"t":"2022-10-20T20:00Z","s":"Signal","v":2e-7},
      {"t":"2022-10-21T04:00Z","s":"Signal","v":0}
    ],
    "channel": [
      {"line":"upper","t":"2022-10-07T05:30Z","p":0.0002055},
      {"line":"upper","t":"2022-10-22T17:20Z","p":0.0002469},
      {"line":"lower","t":"2022-10-07T09:30Z","p":0.0001711},
      {"line":"lower","t":"2022-10-23T01:20Z","p":0.000207}
    ]
  },
  "vconcat": [
    {
      "width": 1130,
      "height": 480,
      "layer": [
        {
          "data": {"name": "bb"},
          "mark": {"type": "area", "clip": true, "color": "#2196f3", "opacity": 0.07},
          "encoding": {
            "x": {"field": "t", "type": "temporal",
              "scale": {"type": "utc", "padding": 0, "domain": [{"year":2022,"month":9,"date":20,"hours":3,"minutes":24,"utc":true}, {"year":2022,"month":10,"date":27,"hours":15,"minutes":13,"utc":true}]},
              "axis": {"values": [{"year":2022,"month":9,"date":22,"utc":true},{"year":2022,"month":9,"date":26,"utc":true},{"year":2022,"month":10,"date":1,"utc":true},{"year":2022,"month":10,"date":4,"utc":true},{"year":2022,"month":10,"date":7,"utc":true},{"year":2022,"month":10,"date":10,"utc":true},{"year":2022,"month":10,"date":13,"utc":true},{"year":2022,"month":10,"date":17,"utc":true},{"year":2022,"month":10,"date":20,"utc":true},{"year":2022,"month":10,"date":24,"utc":true},{"year":2022,"month":10,"date":27,"utc":true}],
                "labels": false, "grid": true, "domain": true, "domainColor": "#e0e3eb", "domainWidth": 2, "title": null}},
            "y": {"field": "up", "type": "quantitative",
              "scale": {"domain": [0.0001555, 0.0005305], "nice": false, "zero": false, "padding": 0},
              "axis": {"orient": "right", "values": [0.0002, 0.00025, 0.0003, 0.00035, 0.0004, 0.00045, 0.0005],
                "labelExpr": "datum.value < 0.00022 ? '' : format(datum.value, '.7f')", "labelPadding": 13, "grid": true,
                "title": "USDT", "titleAngle": 0, "titleAlign": "left", "titleBaseline": "middle", "titleX": 13, "titleY": 13,
                "titleFontWeight": "normal", "titleFontSize": 12.5, "titleColor": "#131722"}},
            "y2": {"field": "lo"}
          }
        },
        {
          "data": {"name": "bb"},
          "mark": {"type": "line", "clip": true, "color": "#2962ff", "strokeWidth": 1},
          "encoding": {"x": {"field": "t", "type": "temporal"}, "y": {"field": "up", "type": "quantitative"}}
        },
        {
          "data": {"name": "bb"},
          "mark": {"type": "line", "clip": true, "color": "#2962ff", "strokeWidth": 1},
          "encoding": {"x": {"field": "t", "type": "temporal"}, "y": {"field": "lo", "type": "quantitative"}}
        },
        {
          "data": {"name": "bb"},
          "mark": {"type": "line", "clip": true, "color": "#ff6d00", "strokeWidth": 1},
          "encoding": {"x": {"field": "t", "type": "temporal"}, "y": {"field": "mid", "type": "quantitative"}}
        },
        {
          "data": {"values": [{}]},
          "mark": {"type": "rule", "color": "#26a69a", "strokeDash": [1, 3], "strokeWidth": 1},
          "encoding": {"y": {"datum": 0.0002111, "type": "quantitative"}}
        },
        {
          "data": {"name": "candles"},
          "mark": {"type": "rule", "clip": true, "strokeWidth": 1},
          "encoding": {
            "x": {"field": "t", "type": "temporal"},
            "y": {"field": "l", "type": "quantitative"},
            "y2": {"field": "h"},
            "color": {"condition": {"test": "datum.c >= datum.o", "value": "#26a69a"}, "value": "#ef5350"}
          }
        },
        {
          "data": {"name": "candles"},
          "mark": {"type": "bar", "clip": true, "size": 3},
          "encoding": {
            "x": {"field": "t", "type": "temporal"},
            "y": {"field": "o", "type": "quantitative"},
            "y2": {"field": "c"},
            "color": {"condition": {"test": "datum.c >= datum.o", "value": "#26a69a"}, "value": "#ef5350"}
          }
        },
        {
          "data": {"name": "channel"},
          "mark": {"type": "line", "color": "#131722", "strokeWidth": 2.5},
          "encoding": {
            "x": {"field": "t", "type": "temporal"},
            "y": {"field": "p", "type": "quantitative"},
            "detail": {"field": "line"}
          }
        },
        {"data": {"values": [{}]}, "mark": {"type": "text", "align": "left", "baseline": "middle", "fontSize": 11.5, "color": "#131722", "text": "Lucky Block/Tether, 4h, GATEIO"},
         "encoding": {"x": {"datum": {"year":2022,"month":9,"date":20,"hours":10,"minutes":15,"utc":true}, "type": "temporal"}, "y": {"datum": 0.0005203, "type": "quantitative"}}},
        {"data": {"values": [{}]}, "mark": {"type": "text", "align": "left", "baseline": "middle", "fontSize": 11.5, "color": "#131722", "text": "O"},
         "encoding": {"x": {"datum": {"year":2022,"month":9,"date":26,"hours":7,"minutes":16,"utc":true}, "type": "temporal"}, "y": {"datum": 0.0005203, "type": "quantitative"}}},
        {"data": {"values": [{}]}, "mark": {"type": "text", "align": "left", "baseline": "middle", "fontSize": 11, "color": "#26a69a", "text": "0.0002101"},
         "encoding": {"x": {"datum": {"year":2022,"month":9,"date":26,"hours":11,"minutes":58,"utc":true}, "type": "temporal"}, "y": {"datum": 0.0005203, "type": "quantitative"}}},
        {"data": {"values": [{}]}, "mark": {"type": "text", "align": "left", "baseline": "middle", "fontSize": 11.5, "color": "#131722", "text": "H"},
         "encoding": {"x": {"datum": {"year":2022,"month":9,"date":28,"hours":13,"minutes":39,"utc":true}, "type": "temporal"}, "y": {"datum": 0.0005203, "type": "quantitative"}}},
        {"data": {"values": [{}]}, "mark": {"type": "text", "align": "left", "baseline": "middle", "fontSize": 11, "color": "#26a69a", "text": "0.0002116"},
         "encoding": {"x": {"datum": {"year":2022,"month":9,"date":28,"hours":18,"minutes":26,"utc":true}, "type": "temporal"}, "y": {"datum": 0.0005203, "type": "quantitative"}}},
        {"data": {"values": [{}]}, "mark": {"type": "text", "align": "left", "baseline": "middle", "fontSize": 11.5, "color": "#131722", "text": "L"},
         "encoding": {"x": {"datum": {"year":2022,"month":9,"date":30,"hours":22,"minutes":12,"utc":true}, "type": "temporal"}, "y": {"datum": 0.0005203, "type": "quantitative"}}},
        {"data": {"values": [{}]}, "mark": {"type": "text", "align": "left", "baseline": "middle", "fontSize": 11, "color": "#26a69a", "text": "0.0002076"},
         "encoding": {"x": {"datum": {"year":2022,"month":10,"date":1,"hours":2,"minutes":44,"utc":true}, "type": "temporal"}, "y": {"datum": 0.0005203, "type": "quantitative"}}},
        {"data": {"values": [{}]}, "mark": {"type": "text", "align": "left", "baseline": "middle", "fontSize": 11.5, "color": "#131722", "text": "C"},
         "encoding": {"x": {"datum": {"year":2022,"month":10,"date":3,"hours":3,"minutes":0,"utc":true}, "type": "temporal"}, "y": {"datum": 0.0005203, "type": "quantitative"}}},
        {"data": {"values": [{}]}, "mark": {"type": "text", "align": "left", "baseline": "middle", "fontSize": 11, "color": "#26a69a", "text": "0.0002111"},
         "encoding": {"x": {"datum": {"year":2022,"month":10,"date":3,"hours":7,"minutes":45,"utc":true}, "type": "temporal"}, "y": {"datum": 0.0005203, "type": "quantitative"}}},
        {"data": {"values": [{}]}, "mark": {"type": "text", "align": "left", "baseline": "middle", "fontSize": 11, "color": "#26a69a", "text": "+0.0000018 (+0.86%)"},
         "encoding": {"x": {"datum": {"year":2022,"month":10,"date":5,"hours":4,"minutes":30,"utc":true}, "type": "temporal"}, "y": {"datum": 0.0005203, "type": "quantitative"}}},
        {"data": {"values": [{}]}, "mark": {"type": "text", "align": "left", "baseline": "middle", "fontSize": 11.5, "color": "#131722", "text": "BB (20, close, 2, 0)"},
         "encoding": {"x": {"datum": {"year":2022,"month":9,"date":20,"hours":10,"minutes":15,"utc":true}, "type": "temporal"}, "y": {"datum": 0.000507, "type": "quantitative"}}},
        {"data": {"values": [{}]}, "mark": {"type": "text", "align": "left", "baseline": "middle", "fontSize": 11, "color": "#ff6d00", "text": "0.0002124"},
         "encoding": {"x": {"datum": {"year":2022,"month":9,"date":24,"hours":1,"minutes":46,"utc":true}, "type": "temporal"}, "y": {"datum": 0.000507, "type": "quantitative"}}},
        {"data": {"values": [{}]}, "mark": {"type": "text", "align": "left", "baseline": "middle", "fontSize": 11, "color": "#2962ff", "text": "0.0002185"},
         "encoding": {"x": {"datum": {"year":2022,"month":9,"date":26,"hours":3,"minutes":7,"utc":true}, "type": "temporal"}, "y": {"datum": 0.000507, "type": "quantitative"}}},
        {"data": {"values": [{}]}, "mark": {"type": "text", "align": "left", "baseline": "middle", "fontSize": 11, "color": "#2962ff", "text": "0.0002064"},
         "encoding": {"x": {"datum": {"year":2022,"month":9,"date":28,"hours":3,"minutes":57,"utc":true}, "type": "temporal"}, "y": {"datum": 0.000507, "type": "quantitative"}}},
        {"data": {"values": [{}]}, "mark": {"type": "rect", "color": "#2962ff", "cornerRadius": 2},
         "encoding": {"x": {"datum": {"year":2022,"month":10,"date":27,"hours":17,"minutes":36,"utc":true}, "type": "temporal"}, "x2": {"datum": {"year":2022,"month":10,"date":30,"hours":2,"minutes":8,"utc":true}}, "y": {"datum": 0.0002445, "type": "quantitative"}, "y2": {"datum": 0.000232}}},
        {"data": {"values": [{}]}, "mark": {"type": "rect", "color": "#ff6d00", "cornerRadius": 2},
         "encoding": {"x": {"datum": {"year":2022,"month":10,"date":27,"hours":17,"minutes":36,"utc":true}, "type": "temporal"}, "x2": {"datum": {"year":2022,"month":10,"date":30,"hours":2,"minutes":8,"utc":true}}, "y": {"datum": 0.0002312, "type": "quantitative"}, "y2": {"datum": 0.0002187}}},
        {"data": {"values": [{}]}, "mark": {"type": "rect", "color": "#26a69a", "cornerRadius": 2},
         "encoding": {"x": {"datum": {"year":2022,"month":10,"date":27,"hours":17,"minutes":36,"utc":true}, "type": "temporal"}, "x2": {"datum": {"year":2022,"month":10,"date":30,"hours":2,"minutes":8,"utc":true}}, "y": {"datum": 0.000218, "type": "quantitative"}, "y2": {"datum": 0.0001937}}},
        {"data": {"values": [{}]}, "mark": {"type": "rect", "color": "#2962ff", "cornerRadius": 2},
         "encoding": {"x": {"datum": {"year":2022,"month":10,"date":27,"hours":17,"minutes":36,"utc":true}, "type": "temporal"}, "x2": {"datum": {"year":2022,"month":10,"date":30,"hours":2,"minutes":8,"utc":true}}, "y": {"datum": 0.000193, "type": "quantitative"}, "y2": {"datum": 0.0001805}}},
        {"data": {"values": [{}]}, "mark": {"type": "text", "align": "left", "baseline": "middle", "fontSize": 12.5, "color": "white", "text": "0.0002185"},
         "encoding": {"x": {"datum": {"year":2022,"month":10,"date":28,"hours":1,"minutes":19,"utc":true}, "type": "temporal"}, "y": {"datum": 0.0002383, "type": "quantitative"}}},
        {"data": {"values": [{}]}, "mark": {"type": "text", "align": "left", "baseline": "middle", "fontSize": 12.5, "color": "white", "text": "0.0002124"},
         "encoding": {"x": {"datum": {"year":2022,"month":10,"date":28,"hours":1,"minutes":19,"utc":true}, "type": "temporal"}, "y": {"datum": 0.000225, "type": "quantitative"}}},
        {"data": {"values": [{}]}, "mark": {"type": "text", "align": "left", "baseline": "middle", "fontSize": 12.5, "color": "white", "text": "0.0002111"},
         "encoding": {"x": {"datum": {"year":2022,"month":10,"date":28,"hours":1,"minutes":19,"utc":true}, "type": "temporal"}, "y": {"datum": 0.0002109, "type": "quantitative"}}},
        {"data": {"values": [{}]}, "mark": {"type": "text", "align": "left", "baseline": "middle", "fontSize": 12.5, "color": "white", "text": "24:48"},
         "encoding": {"x": {"datum": {"year":2022,"month":10,"date":28,"hours":1,"minutes":19,"utc":true}, "type": "temporal"}, "y": {"datum": 0.0002, "type": "quantitative"}}},
        {"data": {"values": [{}]}, "mark": {"type": "text", "align": "left", "baseline": "middle", "fontSize": 12.5, "color": "white", "text": "0.0002064"},
         "encoding": {"x": {"datum": {"year":2022,"month":10,"date":28,"hours":1,"minutes":19,"utc":true}, "type": "temporal"}, "y": {"datum": 0.0001867, "type": "quantitative"}}}
      ]
    },
    {
      "width": 1130,
      "height": 134,
      "resolve": {"scale": {"color": "independent"}},
      "layer": [
        {
          "data": {"name": "candles"},
          "transform": [
            {"window": [{"op": "lag", "field": "hist", "as": "prev"}], "sort": [{"field": "t", "order": "ascending"}]},
            {"calculate": "datum.hist >= 0 ? (datum.prev < datum.hist ? 'ga' : 'fa') : (datum.prev < datum.hist ? 'gb' : 'fb')", "as": "col"}
          ],
          "mark": {"type": "bar", "clip": true, "size": 3.6},
          "encoding": {
            "x": {"field": "t", "type": "temporal",
              "scale": {"type": "utc", "padding": 0, "domain": [{"year":2022,"month":9,"date":20,"hours":3,"minutes":24,"utc":true}, {"year":2022,"month":10,"date":27,"hours":15,"minutes":13,"utc":true}]},
              "axis": {"values": [{"year":2022,"month":9,"date":22,"utc":true},{"year":2022,"month":9,"date":26,"utc":true},{"year":2022,"month":10,"date":1,"utc":true},{"year":2022,"month":10,"date":4,"utc":true},{"year":2022,"month":10,"date":7,"utc":true},{"year":2022,"month":10,"date":10,"utc":true},{"year":2022,"month":10,"date":13,"utc":true},{"year":2022,"month":10,"date":17,"utc":true},{"year":2022,"month":10,"date":20,"utc":true},{"year":2022,"month":10,"date":24,"utc":true},{"year":2022,"month":10,"date":27,"utc":true}],
                "labelExpr": "utcdate(datum.value) == 1 ? 'Oct' : utcFormat(datum.value, '%-d')",
                "labelFontSize": 13, "labelPadding": 7, "grid": true,
                "title": "TradingView", "titleX": 25, "titleY": 46, "titleAlign": "left", "titleAnchor": "start", "titleBaseline": "middle",
                "titleFontSize": 13.5, "titleFontWeight": "normal", "titleColor": "#131722"}},
            "y": {"field": "hist", "type": "quantitative",
              "scale": {"domain": [-0.00001754, 0.00000979], "nice": false, "zero": false, "padding": 0},
              "axis": {"orient": "right", "values": [-0.00001], "format": ".7f", "labelPadding": 13, "grid": true, "title": null}},
            "y2": {"datum": 0},
            "color": {"field": "col", "type": "nominal", "scale": {"domain": ["ga", "fa", "gb", "fb"], "range": ["#26a69a", "#b2dfdb", "#ffcdd2", "#ff5252"]}, "legend": null}
          }
        },
        {
          "data": {"values": [{}]},
          "mark": {"type": "rule", "color": "#9598a1", "strokeDash": [4, 4], "strokeWidth": 1},
          "encoding": {"y": {"datum": 0, "type": "quantitative"}}
        },
        {
          "data": {"name": "macd"},
          "mark": {"type": "line", "clip": true, "strokeWidth": 1},
          "encoding": {
            "x": {"field": "t", "type": "temporal"},
            "y": {"field": "v", "type": "quantitative"},
            "color": {"field": "s", "type": "nominal", "scale": {"domain": ["MACD", "Signal"], "range": ["#2962ff", "#ff6d00"]}, "legend": null}
          }
        },
        {"data": {"values": [{}]}, "mark": {"type": "text", "align": "left", "baseline": "middle", "fontSize": 11.5, "color": "#131722", "text": "MACD (12, 26, close, 9, EMA, EMA)"},
         "encoding": {"x": {"datum": {"year":2022,"month":9,"date":20,"hours":9,"minutes":32,"utc":true}, "type": "temporal"}, "y": {"datum": 0.00000694, "type": "quantitative"}}},
        {"data": {"values": [{}]}, "mark": {"type": "text", "align": "left", "baseline": "middle", "fontSize": 11, "color": "#f7b3ba", "text": "−0.0000004"},
         "encoding": {"x": {"datum": {"year":2022,"month":9,"date":26,"hours":19,"minutes":51,"utc":true}, "type": "temporal"}, "y": {"datum": 0.00000694, "type": "quantitative"}}},
        {"data": {"values": [{}]}, "mark": {"type": "text", "align": "left", "baseline": "middle", "fontSize": 11, "color": "#2962ff", "text": "−0.0000004"},
         "encoding": {"x": {"datum": {"year":2022,"month":9,"date":29,"hours":1,"minutes":22,"utc":true}, "type": "temporal"}, "y": {"datum": 0.00000694, "type": "quantitative"}}},
        {"data": {"values": [{}]}, "mark": {"type": "text", "align": "left", "baseline": "middle", "fontSize": 11, "color": "#ff6d00", "text": "0.0000000"},
         "encoding": {"x": {"datum": {"year":2022,"month":10,"date":1,"hours":7,"minutes":45,"utc":true}, "type": "temporal"}, "y": {"datum": 0.00000694, "type": "quantitative"}}},
        {"data": {"values": [{}]}, "mark": {"type": "rect", "color": "#ff6d00", "cornerRadius": 2},
         "encoding": {"x": {"datum": {"year":2022,"month":10,"date":27,"hours":17,"minutes":36,"utc":true}, "type": "temporal"}, "x2": {"datum": {"year":2022,"month":10,"date":30,"hours":2,"minutes":8,"utc":true}}, "y": {"datum": 0.00000816, "type": "quantitative"}, "y2": {"datum": 0.0000049}}},
        {"data": {"values": [{}]}, "mark": {"type": "rect", "color": "#2962ff", "cornerRadius": 2},
         "encoding": {"x": {"datum": {"year":2022,"month":10,"date":27,"hours":17,"minutes":36,"utc":true}, "type": "temporal"}, "x2": {"datum": {"year":2022,"month":10,"date":30,"hours":7,"minutes":42,"utc":true}}, "y": {"datum": 0.00000469, "type": "quantitative"}, "y2": {"datum": 0.00000143}}},
        {"data": {"values": [{}]}, "mark": {"type": "rect", "color": "#ffcdd2", "cornerRadius": 2},
         "encoding": {"x": {"datum": {"year":2022,"month":10,"date":27,"hours":17,"minutes":36,"utc":true}, "type": "temporal"}, "x2": {"datum": {"year":2022,"month":10,"date":30,"hours":7,"minutes":42,"utc":true}}, "y": {"datum": 0.00000122, "type": "quantitative"}, "y2": {"datum": -0.00000204}}},
        {"data": {"values": [{}]}, "mark": {"type": "text", "align": "left", "baseline": "middle", "fontSize": 12.5, "color": "white", "text": "0.0000000"},
         "encoding": {"x": {"datum": {"year":2022,"month":10,"date":28,"hours":1,"minutes":19,"utc":true}, "type": "temporal"}, "y": {"datum": 0.00000653, "type": "quantitative"}}},
        {"data": {"values": [{}]}, "mark": {"type": "text", "align": "left", "baseline": "middle", "fontSize": 12.5, "color": "white", "text": "−0.0000004"},
         "encoding": {"x": {"datum": {"year":2022,"month":10,"date":28,"hours":1,"minutes":19,"utc":true}, "type": "temporal"}, "y": {"datum": 0.00000306, "type": "quantitative"}}},
        {"data": {"values": [{}]}, "mark": {"type": "text", "align": "left", "baseline": "middle", "fontSize": 12.5, "color": "#131722", "text": "−0.0000004"},
         "encoding": {"x": {"datum": {"year":2022,"month":10,"date":28,"hours":1,"minutes":19,"utc":true}, "type": "temporal"}, "y": {"datum": -0.00000041, "type": "quantitative"}}},
        {"data": {"values": [{}]}, "mark": {"type": "text", "align": "left", "baseline": "middle", "fontSize": 16, "fontWeight": 900, "color": "#131722", "text": "TV"},
         "encoding": {"x": {"datum": {"year":2022,"month":9,"date":20,"hours":3,"minutes":40,"utc":true}, "type": "temporal"}, "y": {"datum": -0.0000269, "type": "quantitative"}}}
      ]
    }
  ]
}
